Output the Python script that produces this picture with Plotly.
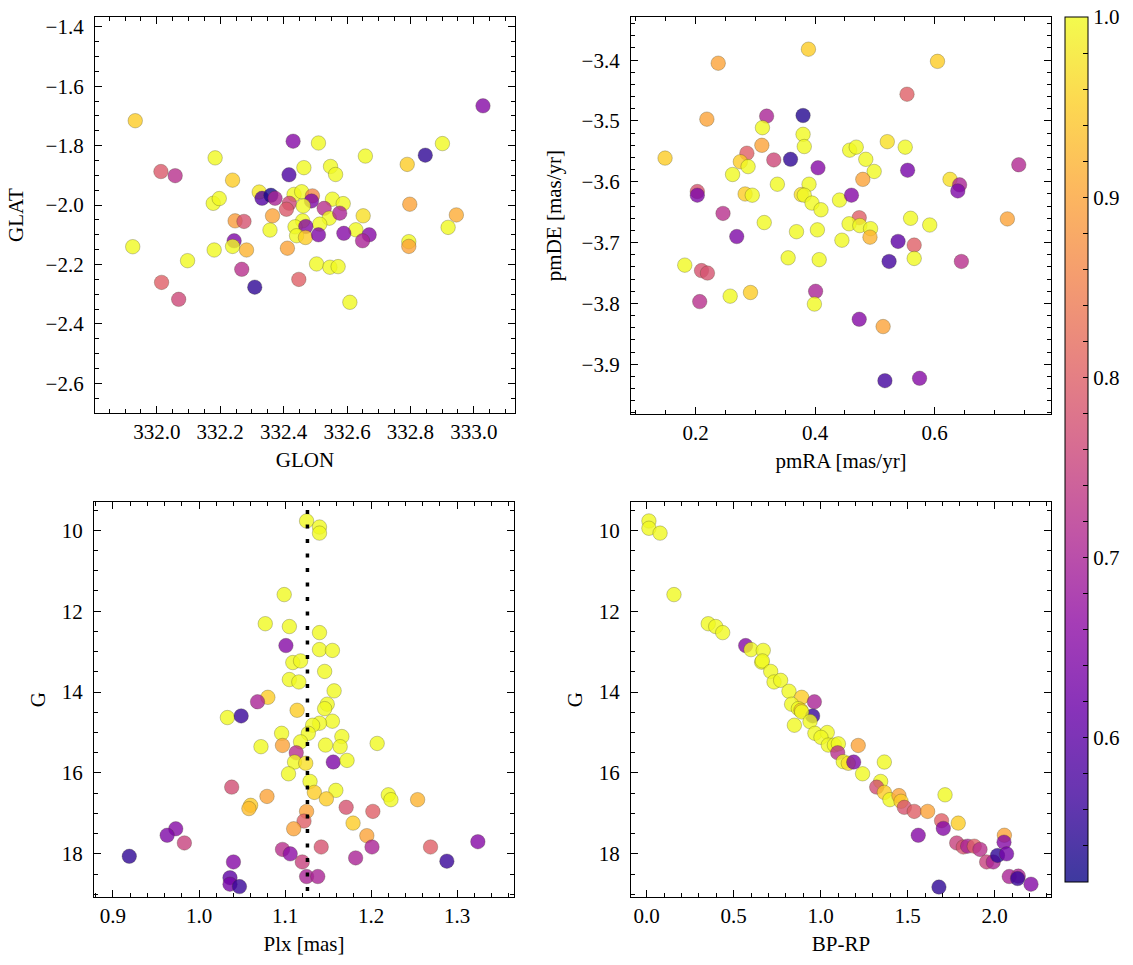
import plotly.graph_objects as go

# ---------------- data ----------------
# Panel 1: sky positions
glon = [331.932, 333.029, 332.430, 332.510, 332.901, 332.847, 332.658, 332.184, 332.790, 332.013,
        332.058, 332.417, 332.464, 332.548, 332.564, 332.239, 332.323, 332.332, 332.360, 332.373,
        332.433, 332.457, 332.491, 332.488, 332.554, 332.588, 332.178, 332.197, 332.418, 332.409,
        332.462, 332.528, 332.544, 332.577, 332.651, 332.798, 332.945, 332.365, 332.247, 332.275,
        332.460, 332.514, 332.436, 332.470, 332.357, 332.628, 332.919, 332.441, 332.469, 332.510,
        332.590, 332.670, 332.649, 332.244, 332.239, 332.283, 332.181, 332.412, 331.924, 332.795,
        332.795, 332.097, 332.504, 332.546, 332.572, 332.268, 332.015, 332.448, 332.309, 332.069,
        332.609]
glat = [-1.716, -1.666, -1.785, -1.791, -1.793, -1.832, -1.835, -1.841, -1.863, -1.887,
        -1.901, -1.898, -1.874, -1.870, -1.897, -1.916, -1.956, -1.977, -1.967, -1.977,
        -1.964, -1.955, -1.969, -1.986, -1.980, -1.995, -1.994, -1.978, -1.994, -2.014,
        -2.003, -2.011, -2.044, -2.027, -2.036, -1.997, -2.033, -2.036, -2.053, -2.055,
        -2.053, -2.064, -2.073, -2.072, -2.084, -2.083, -2.075, -2.103, -2.109, -2.100,
        -2.095, -2.100, -2.120, -2.120, -2.139, -2.151, -2.151, -2.145, -2.140, -2.123,
        -2.139, -2.187, -2.198, -2.209, -2.207, -2.216, -2.260, -2.250, -2.276, -2.317,
        -2.327]
prob_sky = [0.95, 0.65, 0.65, 1.00, 1.00, 0.55, 1.00, 1.00, 0.95, 0.79,
            0.72, 0.58, 1.00, 1.00, 1.00, 0.95, 0.98, 0.59, 0.53, 0.70,
            1.00, 1.00, 0.86, 0.64, 1.00, 1.00, 1.00, 1.00, 0.76, 0.79,
            1.00, 0.72, 1.00, 0.70, 0.97, 0.90, 0.91, 0.90, 0.89, 0.78,
            1.00, 1.00, 1.00, 0.65, 1.00, 1.00, 1.00, 1.00, 0.95, 0.64,
            0.65, 0.65, 0.70, 0.64, 1.00, 0.92, 1.00, 0.90, 1.00, 1.00,
            0.90, 1.00, 1.00, 1.00, 1.00, 0.72, 0.80, 0.80, 0.55, 0.76,
            1.00]

# Panel 2: proper motions
pmra = [0.389, 0.238, 0.605, 0.554, 0.319, 0.380, 0.219, 0.312, 0.380, 0.382,
        0.311, 0.521, 0.551, 0.458, 0.469, 0.149, 0.286, 0.275, 0.288, 0.331,
        0.359, 0.405, 0.485, 0.741, 0.555, 0.499, 0.262, 0.480, 0.626, 0.642,
        0.639, 0.203, 0.203, 0.337, 0.390, 0.283, 0.295, 0.377, 0.382, 0.395,
        0.410, 0.441, 0.461, 0.246, 0.315, 0.474, 0.457, 0.475, 0.493, 0.492,
        0.560, 0.592, 0.722, 0.269, 0.369, 0.404, 0.445, 0.539, 0.566, 0.355,
        0.407, 0.524, 0.566, 0.645, 0.182, 0.210, 0.220, 0.207, 0.258, 0.292,
        0.401, 0.399, 0.474, 0.514, 0.517, 0.575]
pmde = [-3.382, -3.405, -3.402, -3.456, -3.492, -3.491, -3.497, -3.511, -3.522, -3.542,
        -3.540, -3.534, -3.543, -3.548, -3.543, -3.561, -3.553, -3.567, -3.575, -3.564,
        -3.563, -3.577, -3.563, -3.572, -3.581, -3.583, -3.588, -3.596, -3.596, -3.605,
        -3.615, -3.616, -3.622, -3.604, -3.604, -3.620, -3.622, -3.621, -3.622, -3.635,
        -3.646, -3.630, -3.622, -3.652, -3.667, -3.659, -3.669, -3.672, -3.677, -3.691,
        -3.660, -3.671, -3.661, -3.690, -3.682, -3.679, -3.696, -3.698, -3.704, -3.725,
        -3.728, -3.731, -3.726, -3.731, -3.737, -3.746, -3.750, -3.797, -3.788, -3.782,
        -3.780, -3.801, -3.826, -3.838, -3.927, -3.923]
prob_pm = [0.95, 0.90, 0.95, 0.80, 0.70, 0.54, 0.90, 1.00, 1.00, 1.00,
           0.90, 0.97, 1.00, 1.00, 1.00, 0.95, 0.80, 0.95, 1.00, 0.76,
           0.55, 0.65, 1.00, 0.71, 0.63, 1.00, 1.00, 0.90, 0.97, 0.70,
           0.64, 0.78, 0.64, 1.00, 1.00, 0.95, 1.00, 0.97, 1.00, 1.00,
           1.00, 1.00, 0.65, 0.72, 1.00, 0.80, 1.00, 1.00, 1.00, 0.92,
           1.00, 1.00, 0.90, 0.64, 1.00, 1.00, 1.00, 0.60, 0.80, 1.00,
           1.00, 0.57, 1.00, 0.72, 1.00, 0.78, 0.78, 0.72, 1.00, 0.95,
           0.70, 1.00, 0.65, 0.90, 0.57, 0.65]

# Panel 3: parallax vs G
plx = [1.125, 1.140, 1.140, 1.099, 1.077, 1.105, 1.140, 1.101, 1.140, 1.155,
       1.109, 1.118, 1.146, 1.105, 1.116, 1.157, 1.080, 1.068, 1.149, 1.146,
       1.114, 1.033, 1.049, 1.155, 1.140, 1.132, 1.127, 1.096, 1.166, 1.164,
       1.147, 1.207, 1.072, 1.097, 1.118, 1.113, 1.111, 1.124, 1.156, 1.172,
       1.104, 1.129, 1.038, 1.134, 1.159, 1.148, 1.220, 1.223, 1.254, 1.079,
       1.060, 1.058, 1.171, 1.202, 1.125, 1.122, 1.179, 1.110, 1.195, 0.973,
       0.963, 0.983, 1.097, 1.106, 1.142, 1.201, 1.269, 1.324, 0.919, 1.040,
       1.120, 1.182, 1.288, 1.036, 1.036, 1.047, 1.125, 1.138]
g_plx = [9.77, 9.92, 10.07, 11.59, 12.31, 12.38, 12.53, 12.85, 12.95, 12.97,
         13.27, 13.23, 13.49, 13.69, 13.75, 13.97, 14.13, 14.24, 14.30, 14.41,
         14.45, 14.63, 14.59, 14.72, 14.77, 14.82, 15.02, 15.02, 15.10, 15.35,
         15.31, 15.27, 15.35, 15.32, 15.23, 15.50, 15.73, 15.76, 15.73, 15.69,
         16.02, 16.21, 16.35, 16.48, 16.43, 16.64, 16.54, 16.66, 16.66, 16.58,
         16.80, 16.88, 16.85, 16.95, 16.95, 17.19, 17.24, 17.38, 17.55, 17.38,
         17.54, 17.73, 17.89, 18.00, 17.83, 17.83, 17.83, 17.70, 18.06, 18.20,
         18.20, 18.10, 18.18, 18.59, 18.75, 18.81, 18.56, 18.56]
prob_plx = [1.00, 1.00, 1.00, 1.00, 1.00, 1.00, 1.00, 0.65, 1.00, 1.00,
            1.00, 1.00, 1.00, 1.00, 1.00, 1.00, 0.95, 0.70, 1.00, 1.00,
            0.95, 1.00, 0.56, 1.00, 1.00, 1.00, 1.00, 1.00, 1.00, 1.00,
            1.00, 1.00, 1.00, 0.90, 1.00, 0.72, 1.00, 0.97, 0.64, 1.00,
            1.00, 1.00, 0.77, 0.95, 1.00, 0.95, 1.00, 1.00, 0.92, 0.90,
            0.95, 0.93, 0.78, 0.80, 0.90, 0.80, 0.95, 0.90, 0.90, 0.65,
            0.64, 0.75, 0.72, 0.66, 0.78, 0.70, 0.80, 0.65, 0.55, 0.65,
            0.75, 0.70, 0.56, 0.60, 0.63, 0.56, 0.70, 0.70]
plx_mean = 1.126

# Panel 4: colour-magnitude diagram
bprp = [0.013, 0.013, 0.077, 0.157, 0.354, 0.397, 0.437, 0.569, 0.600, 0.670,
        0.661, 0.665, 0.713, 0.732, 0.770, 0.818, 0.891, 0.964, 0.833, 0.872,
        0.887, 0.849, 0.954, 0.891, 0.939, 0.967, 1.038, 1.002, 1.044, 1.079,
        1.102, 1.216, 1.098, 1.130, 1.159, 1.190, 1.366, 1.241, 1.345, 1.322,
        1.366, 1.398, 1.450, 1.462, 1.481, 1.538, 1.615, 1.715, 1.695, 1.791,
        1.705, 1.561, 1.782, 1.820, 1.845, 1.883, 1.916, 1.954, 1.992, 2.017,
        2.056, 2.054, 2.069, 2.084, 2.136, 2.132, 2.209, 1.680]
g_cmd = [9.77, 9.95, 10.07, 11.59, 12.31, 12.38, 12.53, 12.85, 12.95, 12.97,
         13.26, 13.23, 13.49, 13.75, 13.71, 13.98, 14.13, 14.24, 14.30, 14.41,
         14.45, 14.82, 14.59, 14.49, 14.73, 15.02, 15.00, 15.12, 15.31, 15.31,
         15.28, 15.32, 15.50, 15.72, 15.76, 15.73, 15.73, 16.02, 16.21, 16.35,
         16.48, 16.66, 16.56, 16.70, 16.85, 16.95, 16.95, 16.54, 17.18, 17.24,
         17.37, 17.54, 17.73, 17.83, 17.81, 17.81, 17.89, 18.20, 18.20, 18.04,
         17.54, 17.71, 18.00, 18.56, 18.55, 18.61, 18.75, 18.82]
prob_cmd = [1.00, 1.00, 1.00, 1.00, 1.00, 1.00, 1.00, 0.65, 1.00, 1.00,
            1.00, 1.00, 1.00, 1.00, 1.00, 1.00, 0.95, 0.70, 1.00, 1.00,
            0.95, 1.00, 0.56, 1.00, 1.00, 1.00, 1.00, 1.00, 1.00, 1.00,
            1.00, 0.90, 0.72, 1.00, 0.97, 0.64, 1.00, 1.00, 1.00, 0.77,
            0.95, 1.00, 0.90, 0.95, 0.78, 0.80, 0.90, 1.00, 0.80, 0.95,
            0.65, 0.65, 0.75, 0.78, 0.70, 0.80, 0.72, 0.75, 0.70, 0.55,
            0.90, 0.65, 0.63, 0.70, 0.70, 0.56, 0.65, 0.55]

# ---------------- styling ----------------
W, H = 1133, 965
FONT = "Liberation Serif"
FS = 21
ALPHA = 0.8
plasma = ["#0d0887", "#41049d", "#6a00a8", "#8f0da4", "#b12a90", "#cc4778",
          "#e16462", "#f2844b", "#fca636", "#fcce25", "#f0f921"]


def rgba(hx, a):
    hx = hx.lstrip("#")
    return "rgba(%d,%d,%d,%.2f)" % (int(hx[0:2], 16), int(hx[2:4], 16), int(hx[4:6], 16), a)


cscale = [[i / (len(plasma) - 1), rgba(c, ALPHA)] for i, c in enumerate(plasma)]
CMIN, CMAX = 0.52, 1.0
cb_vals = [round(0.52 + 0.02 * i, 2) for i in range(25)]
cb_text = [("%.1f" % v) if abs(v * 10 - round(v * 10)) < 1e-6 else "" for v in cb_vals]


def dom_x(a, b):
    return [a / W, b / W]


def dom_y(top, bottom):
    return [1 - bottom / H, 1 - top / H]


fig = go.Figure()

panels = [
    (glon, glat, prob_sky, "x", "y"),
    (pmra, pmde, prob_pm, "x2", "y2"),
    (plx, g_plx, prob_plx, "x3", "y3"),
    (bprp, g_cmd, prob_cmd, "x4", "y4"),
]
for xs, ys, ps, xa, ya in panels:
    fig.add_trace(go.Scatter(
        x=xs, y=ys, mode="markers", xaxis=xa, yaxis=ya, showlegend=False,
        marker=dict(size=14.5, color=ps, coloraxis="coloraxis",
                    line=dict(width=0.5, color="rgba(60,60,30,0.55)")),
    ))

# mean parallax dotted line
fig.add_trace(go.Scatter(
    x=[plx_mean, plx_mean], y=[9.5, 19.07], mode="lines", xaxis="x3", yaxis="y3",
    showlegend=False, line=dict(color="black", width=3.5, dash="4px,10.5px"),
))


def axis(domain, anchor, rng, dtick, minor, fmt, title, tick0=None, standoff=8, lstand=0):
    d = dict(
        domain=domain, anchor=anchor, range=rng, dtick=dtick, tickformat=fmt,
        ticks="inside", ticklen=7, tickwidth=1, tickcolor="black",
        showline=True, linecolor="black", linewidth=1.2, mirror="allticks",
        showgrid=False, zeroline=False, ticklabelstandoff=lstand,
        tickfont=dict(family=FONT, size=FS, color="black"),
        title=dict(text=title, font=dict(family=FONT, size=FS, color="black"), standoff=standoff),
        minor=dict(dtick=minor, ticks="inside", ticklen=4, tickwidth=1, tickcolor="black", showgrid=False),
    )
    if tick0 is not None:
        d["tick0"] = tick0
        d["minor"]["tick0"] = tick0
    return d


fig.update_layout(
    width=W, height=H, margin=dict(l=0, r=0, t=0, b=0),
    paper_bgcolor="white", plot_bgcolor="white",
    font=dict(family=FONT, size=FS, color="black"),
    xaxis=axis(dom_x(95, 515), "y", [331.805, 333.13], 0.2, 0.05, ".1f", "GLON", tick0=332.0),
    yaxis=axis(dom_y(15, 412), "x", [-2.70, -1.367], 0.2, 0.05, ".1f", "GLAT", tick0=-2.0,
               standoff=16, lstand=6),
    xaxis2=axis(dom_x(631, 1051), "y2", [0.092, 0.795], 0.2, 0.05, ".1f", "pmRA [mas/yr]", tick0=0.0),
    yaxis2=axis(dom_y(15, 413), "x2", [-3.982, -3.329], 0.1, 0.02, ".1f", "pmDE [mas/yr]", tick0=-4.0,
                standoff=14, lstand=6),
    xaxis3=axis(dom_x(94, 514), "y3", [0.878, 1.366], 0.1, 0.02, ".1f", "Plx [mas]", tick0=0.0),
    yaxis3=axis(dom_y(501, 897), "x3", [19.07, 9.30], 2, 0.5, "d", "G", tick0=0,
                standoff=10, lstand=6),
    xaxis4=axis(dom_x(631, 1051), "y4", [-0.09, 2.324], 0.5, 0.1, ".1f", "BP-RP", tick0=0.0),
    yaxis4=axis(dom_y(501, 897), "x4", [19.07, 9.30], 2, 0.5, "d", "G", tick0=0,
                standoff=10, lstand=6),
    coloraxis=dict(
        cmin=CMIN, cmax=CMAX, colorscale=cscale,
        colorbar=dict(
            x=1065 / W, xanchor="left", xpad=0, ypad=0,
            y=1 - 15 / H, yanchor="top", len=(882 - 15) / H, lenmode="fraction",
            thickness=23, thicknessmode="pixels",
            outlinewidth=1, outlinecolor="black",
            ticks="inside", ticklen=5, tickcolor="black",
            tickvals=cb_vals, ticktext=cb_text,
            tickfont=dict(family=FONT, size=FS, color="black"),
        ),
    ),
)

fig.write_html("out.html")
